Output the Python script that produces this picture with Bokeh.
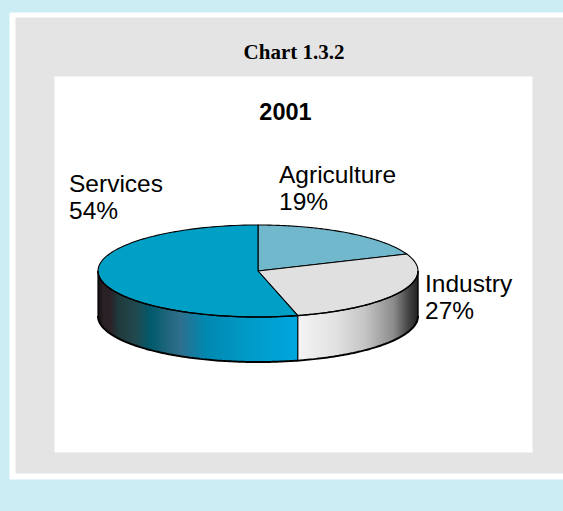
import numpy as np
from bokeh.plotting import figure
from bokeh.models import Range1d
from bokeh.core.properties import value
from bokeh.embed import file_html
from bokeh.resources import INLINE

categories = ["Agriculture", "Industry", "Services"]
shares = [19, 27, 54]
top_colors = ["#72b8cc", "#e0e0e0", "#00a0c6"]
title = "2001"
heading = "Chart 1.3.2"

W, H = 563, 511
CX, CY, RX, RY, DEPTH = 257.5, 270.5, 160, 46, 45

service_stops = [(97, "#101012"), (103, "#2a2026"), (110, "#2a2228"), (118, "#1f3a3c"), (135, "#22484e"), (150, "#005a6c"), (165, "#1c6478"), (180, "#2f6f8c"), (205, "#0088b0"), (250, "#009cc8"), (297, "#00a6e0")]
industry_stops = [(297, "#f4f4f4"), (335, "#e2e2e2"), (365, "#c4c4c4"), (393, "#8c8c8c"), (408, "#444444"), (418, "#202020")]

p = figure(width=W, height=H, x_range=Range1d(0, W), y_range=Range1d(H, 0),
           toolbar_location=None, output_backend="svg", min_border=0,
           background_fill_color="#cbedf4", border_fill_color="#cbedf4", outline_line_color=None)
p.axis.visible = False
p.grid.visible = False

p.quad(left=[9], right=[W], top=[12], bottom=[479], fill_color="white", line_color=None)
p.quad(left=[15], right=[W], top=[17], bottom=[473], fill_color="#e4e4e4", line_color=None)
p.quad(left=[54], right=[532], top=[76], bottom=[452], fill_color="white", line_color=None)


def hexrgb(h):
    return np.array([int(h[i:i + 2], 16) for i in (1, 3, 5)], float)


def grad(stops, x):
    xs = [s[0] for s in stops]
    c = np.array([hexrgb(s[1]) for s in stops])
    return "#%02x%02x%02x" % tuple(int(round(np.interp(x, xs, c[:, i]))) for i in range(3))


def ex(a):
    return CX + RX * np.sin(a)


def ey(a):
    return CY - RY * np.cos(a)


fr = np.cumsum([0] + shares) / sum(shares)
angles = fr * 2 * np.pi
split_x = ex(angles[2])

# side wall: overlapping vertical strips following the front rim
def front_y(x):
    return CY + RY * np.sqrt(np.clip(1 - ((x - CX) / RX) ** 2, 0, 1))


a0, a1 = np.pi / 2, 3 * np.pi / 2
xi = np.arange(CX - RX, CX + RX)
for part, stops in (("s", service_stops), ("i", industry_stops)):
    sl, sr, st, sb, sc = [], [], [], [], []
    for x in xi:
        m = x + 0.5
        if (part == "s") != (m < split_x):
            continue
        sl.append(x)
        sr.append(min(x + 2, split_x) if part == "s" else min(x + 2, CX + RX))
        st.append(front_y(m) - 3)
        sb.append(front_y(m) + DEPTH)
        sc.append(grad(stops, m))
    p.quad(left=sl, right=sr, top=st, bottom=sb, fill_color=sc, line_color=None)

# outline of the wall
tt = np.linspace(a0, a1, 200)
p.line(ex(tt), ey(tt) + DEPTH, line_color="black", line_width=2)
p.line([ex(a0), ex(a0)], [ey(a0), ey(a0) + DEPTH], line_color="black", line_width=1.4)
p.line([ex(a1), ex(a1)], [ey(a1), ey(a1) + DEPTH], line_color="black", line_width=1.2)
p.line([split_x, split_x], [ey(angles[2]), ey(angles[2]) + DEPTH], line_color="black", line_width=1.2)

# top face slices
for i, c in enumerate(top_colors):
    tt = np.linspace(angles[i], angles[i + 1], 120)
    xs = np.r_[CX, ex(tt)]
    ys = np.r_[CY, ey(tt)]
    p.patch(xs, ys, fill_color=c, line_color="black", line_width=1.1, line_join="round")
tt = np.linspace(a0, a1, 200)
p.line(ex(tt), ey(tt), line_color="black", line_width=1.5)

serif = value("Liberation Serif")
sans = value("Liberation Sans")
p.text([293.5], [51], text=[heading], text_font=serif, text_font_style="bold", text_font_size="21px",
       text_align="center", text_baseline="alphabetic", text_color="#000000")
p.text([285], [111], text=[title], text_font=sans, text_font_style="bold", text_font_size="23.5px",
       text_align="center", text_baseline="alphabetic", text_color="#000000")

label_pos = {"Agriculture": (278.5, 174, 201), "Industry": (424.5, 283, 310), "Services": (68.5, 183, 210)}
for cat, s in zip(categories, shares):
    lx, y1, y2 = label_pos[cat]
    p.text([lx], [y1], text=[cat], text_font=sans, text_font_size="24.5px", text_align="left",
           text_baseline="alphabetic", text_color="#000000")
    p.text([lx], [y2], text=[f"{s}%"], text_font=sans, text_font_size="24.5px", text_align="left",
           text_baseline="alphabetic", text_color="#000000")

html = file_html(p, INLINE)
html = html.replace("</head>", "<style>html,body{margin:0;padding:0;overflow:hidden;background:#cbedf4}</style></head>", 1)
open("out.html", "w").write(html)
